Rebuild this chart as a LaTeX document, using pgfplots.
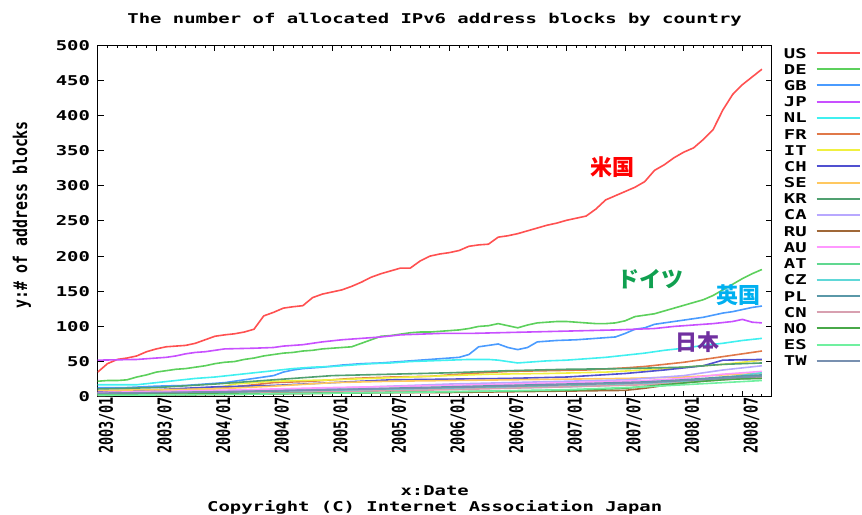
\documentclass[border=0pt]{standalone}
\usepackage{fontspec}
\usepackage{graphicx}
\usepackage{pgfplots}
\pgfplotsset{compat=1.18}
\newfontfamily\gf{DejaVu Sans Mono}[FakeStretch=1.4]
\newfontfamily\gr{DejaVu Sans Mono}
\newfontfamily\cjk{Noto Sans CJK JP}
\newcommand\gfs{\gf\bfseries\fontsize{13.5bp}{16bp}\selectfont}
\newcommand\grs{\gr\bfseries\fontsize{13.5bp}{16bp}\selectfont}
\newcommand\rl[1]{\scalebox{1}[1.4]{#1}}
\definecolor{cUS}{HTML}{FF5050}
\definecolor{cDE}{HTML}{5CD05C}
\definecolor{cGB}{HTML}{4A9BFF}
\definecolor{cJP}{HTML}{C850FF}
\definecolor{cNL}{HTML}{40F0F0}
\definecolor{cFR}{HTML}{E07848}
\definecolor{cIT}{HTML}{F0F040}
\definecolor{cCH}{HTML}{5050D0}
\definecolor{cSE}{HTML}{FFC860}
\definecolor{cKR}{HTML}{50A070}
\definecolor{cCA}{HTML}{B8A8FF}
\definecolor{cRU}{HTML}{A06838}
\definecolor{cAU}{HTML}{FF98FF}
\definecolor{cAT}{HTML}{60D890}
\definecolor{cCZ}{HTML}{60D8D8}
\definecolor{cPL}{HTML}{5A98A8}
\definecolor{cCN}{HTML}{D8A0B0}
\definecolor{cNO}{HTML}{48A848}
\definecolor{cES}{HTML}{70F0A0}
\definecolor{cTW}{HTML}{7890B0}
\begin{document}
\begin{tikzpicture}
\useasboundingbox (0,0) rectangle (862bp,515bp);
\begin{axis}[
  at={(97.7bp,118.3bp)}, anchor=south west,
  width=674bp, height=351.4bp, scale only axis,
  xmin=0, xmax=69, ymin=0, ymax=500,
  xtick={0,6,...,66}, minor xtick={0,...,69},
  xticklabels={\rl{2003/01},\rl{2003/07},\rl{2004/01},\rl{2004/07},\rl{2005/01},\rl{2005/07},\rl{2006/01},\rl{2006/07},\rl{2007/01},\rl{2007/07},\rl{2008/01},\rl{2008/07}},
  ytick={0,50,...,500},
  /pgf/number format/assume math mode=true,
  tick align=inside, major tick length=6bp, minor tick length=3bp,
  tick style={black, line width=1bp},
  axis line style={black, line width=1.3bp},
  xticklabel style={font=\grs, rotate=90, anchor=east, inner sep=0pt, yshift=-9bp},
  yticklabel style={font=\gfs, anchor=east, inner sep=0pt, xshift=-7.5bp},
  legend cell align=left,
  legend plot pos=right,
  legend image code/.code={\draw[#1, line width=1.9bp] (0bp,0bp) -- (43bp,0bp);},
  legend style={at={(1,1)}, anchor=north west, xshift=11bp, yshift=-1.5bp, draw=none, fill=none,
    font=\gfs, inner sep=0pt, row sep=4.2bp, column sep=8bp,
    nodes={inner sep=1bp, text height=10bp, text depth=0bp}},
  every axis plot/.append style={line width=1.6bp, line join=round},
]
\addplot[cUS] coordinates {(0,35)(1,47)(2,53)(3,55)(4,58)(5,64)(6,68)(7,71)(8,72)(9,73)(10,76)(11,81)(12,86)(13,88)(14,89.5)(15,92)(16,96)(17,115)(18,120)(19,126)(20,128)(21,129.5)(22,141)(23,146)(24,149)(25,152)(26,157)(27,163)(28,170)(29,175)(30,179)(31,183)(32,183)(33,193)(34,200)(35,203)(36,205)(37,208)(38,214)(39,216)(40,217)(41,227)(42,229)(43,232)(44,236)(45,240)(46,244)(47,247)(48,251)(49,254)(50,257)(51,267)(52,280)(53,286)(54,292)(55,298)(56,306)(57,322)(58,330)(59,340)(60,348)(61,354)(62,366)(63,380)(64,408)(65,430)(66,444)(67,455)(68,466)};
\addlegendentry{US}
\addplot[cDE] coordinates {(0,22)(1,23)(2,23)(3,24)(4,28)(5,31)(6,35)(7,37)(8,39)(9,40)(10,42)(11,44)(12,47)(13,49)(14,50)(15,53)(16,55)(17,58)(18,60)(19,62)(20,63)(21,65)(22,66)(23,68)(24,69)(25,70)(26,71)(27,76)(28,81)(29,86)(30,87)(31,89)(32,91)(33,92)(34,92)(35,93)(36,94)(37,95)(38,97)(39,100)(40,101)(41,104)(42,101)(43,98)(44,102)(45,105)(46,106)(47,107)(48,107)(49,106)(50,105)(51,104)(52,104)(53,105)(54,108)(55,114)(56,116)(57,118)(58,122)(59,126)(60,130)(61,134)(62,138)(63,144)(64,152)(65,160)(66,168)(67,175)(68,181)};
\addlegendentry{DE}
\addplot[cGB] coordinates {(0,13)(3,13)(6,15)(9,16)(11,18)(13,20)(15,24)(16,26)(17,28)(18,30)(19,35)(20,38)(21,40)(22,41)(23,42)(25,45)(27,47)(29,48)(31,50)(33,52)(35,54)(37,56)(38,60)(39,71)(40,73)(41,75)(42,70)(43,67)(44,70)(45,78)(47,80)(49,81)(51,83)(53,85)(54,90)(55,96)(56,98)(57,103)(58,105)(59,107)(60,109)(61,111)(62,113)(63,116)(64,119)(65,121)(66,124)(67,127)(68,129)};
\addlegendentry{GB}
\addplot[cJP] coordinates {(0,52)(4,53)(6,55)(7,56)(8,58)(9,61)(10,63)(11,64)(12,66)(13,68)(16,69)(18,70)(19,72)(21,74)(23,78)(25,81)(27,83)(29,85)(31,88)(33,89)(35,90)(38,90)(41,91)(44,92)(47,93)(50,94)(53,95)(55,96)(57,97)(59,100)(61,102)(63,104)(65,107)(66,110)(67,106)(68,105)};
\addlegendentry{JP}
\addplot[cNL] coordinates {(0,17)(4,17)(6,20)(8,23)(10,26)(12,28)(14,31)(16,34)(18,37)(20,40)(22,42)(24,43)(26,45)(28,47)(30,48)(32,50)(34,51)(36,52)(38,53)(40,53)(41,52)(43,48)(44,49)(46,51)(48,52)(50,54)(52,56)(54,59)(56,62)(58,66)(60,69)(62,73)(64,76)(66,80)(68,83)};
\addlegendentry{NL}
\addplot[cFR] coordinates {(0,6)(6,8)(10,12)(14,14)(18,20)(22,22)(26,26)(30,28)(34,29)(38,33)(42,36)(46,37)(50,38)(54,41)(56,43)(58,46)(60,49)(62,53)(64,57)(66,61)(68,65)};
\addlegendentry{FR}
\addplot[cIT] coordinates {(0,5)(6,8)(12,12)(14,18)(18,22)(24,24)(30,27)(36,30)(40,32)(46,33)(52,35)(56,38)(60,42)(64,46)(68,52)};
\addlegendentry{IT}
\addplot[cCH] coordinates {(0,8)(6,10)(12,14)(18,16)(24,20)(30,24)(36,25)(42,26)(48,28)(54,33)(58,38)(62,44)(64,52)(68,53)};
\addlegendentry{CH}
\addplot[cSE] coordinates {(0,9)(6,10)(12,11)(18,15)(24,20)(30,22)(36,23)(42,24)(48,25)(54,26)(60,28)(64,31)(68,33)};
\addlegendentry{SE}
\addplot[cKR] coordinates {(0,11)(6,13)(12,18)(18,24)(24,30)(30,32)(36,34)(42,37)(48,39)(54,40)(60,42)(64,46)(68,48)};
\addlegendentry{KR}
\addplot[cCA] coordinates {(0,5)(12,8)(18,10)(24,12)(30,15)(36,18)(42,20)(48,22)(54,24)(60,30)(64,38)(68,44)};
\addlegendentry{CA}
\addplot[cRU] coordinates {(0,2)(12,3)(18,4)(24,5)(30,6)(36,6)(42,7)(48,8)(54,9)(56,12)(60,20)(64,25)(68,28)};
\addlegendentry{RU}
\addplot[cAU] coordinates {(0,6)(12,9)(24,13)(36,16)(48,20)(56,23)(60,26)(64,32)(68,36)};
\addlegendentry{AU}
\addplot[cAT] coordinates {(0,4)(12,6)(24,9)(36,12)(48,15)(56,18)(60,22)(64,26)(68,30)};
\addlegendentry{AT}
\addplot[cCZ] coordinates {(0,3)(12,5)(24,8)(36,11)(48,14)(56,18)(60,22)(64,27)(68,34)};
\addlegendentry{CZ}
\addplot[cPL] coordinates {(0,4)(12,6)(24,10)(36,14)(48,18)(56,21)(60,24)(64,28)(68,31)};
\addlegendentry{PL}
\addplot[cCN] coordinates {(0,2)(12,4)(24,7)(36,10)(48,14)(56,17)(60,20)(64,24)(68,27)};
\addlegendentry{CN}
\addplot[cNO] coordinates {(0,3)(12,4)(24,5)(36,7)(48,9)(54,12)(58,17)(62,22)(65,25)(68,26)};
\addlegendentry{NO}
\addplot[cES] coordinates {(0,2)(12,3)(24,5)(36,7)(48,10)(56,14)(60,17)(64,20)(68,23)};
\addlegendentry{ES}
\addplot[cTW] coordinates {(0,5)(12,7)(24,10)(36,13)(48,17)(56,20)(60,23)(64,26)(68,29)};
\addlegendentry{TW}
\node[font=\cjk\bfseries\fontsize{22bp}{26bp}\selectfont, text=red] at (axis cs:52.7,326.8) {米国};
\node[font=\cjk\bfseries\fontsize{22bp}{26bp}\selectfont, text={rgb,255:red,16;green,160;blue,80}] at (axis cs:56.6,167.5) {ドイツ};
\node[font=\cjk\bfseries\fontsize{22bp}{26bp}\selectfont, text={rgb,255:red,0;green,176;blue,240}] at (axis cs:65.6,144.7) {英国};
\node[font=\cjk\bfseries\fontsize{22bp}{26bp}\selectfont, text={rgb,255:red,112;green,48;blue,160}] at (axis cs:61.4,77.8) {日本};
\end{axis}
\node[font=\gfs] at (434.7bp,495bp) {The number of allocated IPv6 address blocks by country};
\node[font=\gfs] at (434.7bp,24bp) {x:Date};
\node[font=\gfs] at (434.7bp,8bp) {Copyright (C) Internet Association Japan};
\node[font=\grs, rotate=90] at (22bp,300bp) {\scalebox{1.1}[1.4]{y:\# of address blocks}};
\end{tikzpicture}
\end{document}
